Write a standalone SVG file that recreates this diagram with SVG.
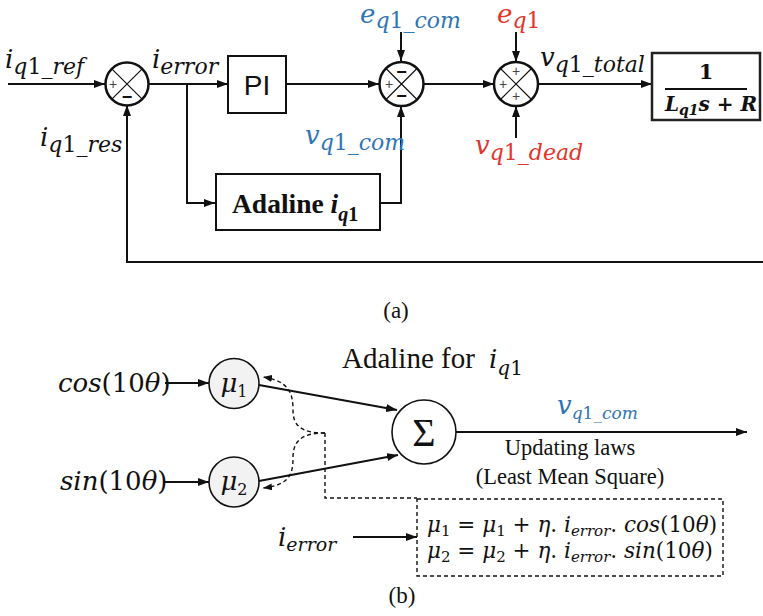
<svg xmlns="http://www.w3.org/2000/svg" width="763" height="616" viewBox="0 0 763 616">
<defs>
<marker id="ah" viewBox="0 0 11 8" refX="11" refY="4" markerWidth="11" markerHeight="8" markerUnits="userSpaceOnUse" orient="auto"><path d="M0,0 L11,4 L0,8 z" fill="#111"/></marker>
<marker id="ahs" viewBox="0 0 9 7" refX="9" refY="3.5" markerWidth="9" markerHeight="7" markerUnits="userSpaceOnUse" orient="auto"><path d="M0,0 L9,3.5 L0,7 z" fill="#111"/></marker>
<style>
.ln{fill:none;stroke:#111;stroke-width:2;marker-end:url(#ah)}
.dl{fill:none;stroke:#111;stroke-width:1.4;stroke-dasharray:4 3}
.dla{fill:none;stroke:#111;stroke-width:1.4;stroke-dasharray:4 3;marker-end:url(#ahs)}
.box{fill:#fff;stroke:#111;stroke-width:2}
.sum{fill:#fff;stroke:#111;stroke-width:2.5}
.x{stroke:#111;stroke-width:1.2}
.m{font-family:"DejaVu Serif",serif;font-style:italic;font-size:26px;fill:#111}
.s{font-size:22px}
.u{font-style:normal}
.blue{fill:#2f75b5}
.red{fill:#e3342b}
.t{font-family:"Liberation Serif","Times New Roman",serif;fill:#111}
.pl{font-family:"Liberation Sans",Arial,sans-serif;font-size:14px;fill:#444}
.mi{font-family:"Liberation Sans",Arial,sans-serif;font-size:18px;font-weight:bold;fill:#111}
.eq{font-family:"DejaVu Serif",serif;font-style:italic;font-size:21.5px;fill:#111}
.es{font-size:15px}
.mu{fill:#f2f2f2;stroke:#111;stroke-width:1.6}
</style>
</defs>

<g id="connectors">
<path class="ln" d="M8,84 H105"/>
<path class="ln" d="M148,84 H228"/>
<path class="ln" d="M187,84 V203 H215"/>
<path class="ln" d="M286,84 H379"/>
<path class="ln" d="M380,203 H401 V106"/>
<path class="ln" d="M401,32 V61"/>
<path class="ln" d="M424,84 H494"/>
<path class="ln" d="M516,32 V62"/>
<path class="ln" d="M516,138 V106"/>
<path class="ln" d="M538,84 H652"/>
<path class="ln" d="M763,262 H127 V105"/>
<path class="ln" d="M165,383 H209"/>
<path class="ln" d="M163,482 H209"/>
<path class="ln" d="M259,385 L397,410"/>
<path class="ln" d="M259,481 L398,455"/>
<path class="ln" d="M456,432 H747"/>
<path class="ln" d="M353,537 H417"/>
<path class="dla" d="M325,433 C300,433 293,425 293,410 C293,392 288,381 263,377"/>
<path class="dla" d="M325,433 C300,433 293,442 293,458 C293,476 288,485 263,488"/>
<path class="dl" d="M325,433 V498 H417"/>
</g>

<g id="sum1">
<circle class="sum" cx="127" cy="84" r="21.5"/>
<path class="x" d="M111.8,68.8 L142.2,99.2 M142.2,68.8 L111.8,99.2"/>
<text class="pl" x="113" y="89" text-anchor="middle">+</text>
<text class="mi" x="127" y="103" text-anchor="middle">−</text>
</g>

<g id="pi">
<rect class="box" x="228" y="56" width="58" height="57"/>
<text x="257" y="95" text-anchor="middle" font-family="Liberation Sans, Arial, sans-serif" font-size="28" fill="#111">PI</text>
</g>

<g id="adaline">
<rect class="box" x="216" y="174" width="164" height="56"/>
<text class="t" x="232" y="213" font-size="27.5" font-weight="bold">Adaline <tspan font-style="italic">i</tspan><tspan font-style="italic" font-size="20" dy="8">q</tspan><tspan font-size="20">1</tspan></text>
</g>

<g id="sum2">
<circle class="sum" cx="401.5" cy="84" r="22"/>
<path class="x" d="M386,68.5 L417,99.5 M417,68.5 L386,99.5"/>
<text class="pl" x="389" y="89" text-anchor="middle">+</text>
<text class="mi" x="401.5" y="78" text-anchor="middle">−</text>
<text class="mi" x="401.5" y="102" text-anchor="middle">−</text>
</g>

<g id="sum3">
<circle class="sum" cx="516" cy="84" r="22"/>
<path class="x" d="M500.5,68.5 L531.5,99.5 M531.5,68.5 L500.5,99.5"/>
<text class="pl" x="503" y="89" text-anchor="middle">+</text>
<text class="pl" x="516" y="76" text-anchor="middle">+</text>
<text class="pl" x="516" y="101" text-anchor="middle">+</text>
</g>

<g id="plant">
<rect x="652" y="53" width="108" height="67" fill="#fff" stroke="#222" stroke-width="2.5"/>
<text x="706" y="79" text-anchor="middle" font-family="DejaVu Serif, serif" font-weight="bold" font-size="21" fill="#111">1</text>
<line x1="665" y1="89" x2="747" y2="89" stroke="#111" stroke-width="2"/>
<text x="665" y="111" font-family="DejaVu Serif, serif" font-weight="bold" font-style="italic" font-size="20" fill="#111">L<tspan font-size="14" dy="4">q1</tspan><tspan dy="-4">s</tspan><tspan font-style="normal"> + </tspan>R</text>
</g>

<g id="labels-a">
<text class="m" x="5" y="68">i<tspan class="s" dy="6">q<tspan class="u">1</tspan>_ref</tspan></text>
<text class="m" x="152" y="68">i<tspan class="s" dy="6">error</tspan></text>
<text class="m" x="40" y="146">i<tspan class="s" dy="6">q<tspan class="u">1</tspan>_res</tspan></text>
<text class="m blue" x="360" y="23" font-size="24">e<tspan class="s" dy="5">q<tspan class="u">1</tspan>_com</tspan></text>
<text class="m blue" x="305" y="144">v<tspan class="s" dy="6">q<tspan class="u">1</tspan>_com</tspan></text>
<text class="m red" x="497" y="23" font-size="24">e<tspan class="s" dy="5">q<tspan class="u">1</tspan></tspan></text>
<text class="m red" x="475" y="154">v<tspan class="s" dy="6">q<tspan class="u">1</tspan>_dead</tspan></text>
<text class="m" x="540" y="66">v<tspan class="s" dy="6">q<tspan class="u">1</tspan>_total</tspan></text>
<text class="t" x="396" y="318" font-size="23" text-anchor="middle">(a)</text>
</g>

<g id="mu1">
<circle class="mu" cx="234" cy="383.5" r="25"/>
<text class="m" x="234" y="392" text-anchor="middle" font-size="22">μ<tspan font-size="16" font-style="normal" dy="5">1</tspan></text>
</g>
<g id="mu2">
<circle class="mu" cx="234" cy="482" r="25"/>
<text class="m" x="234" y="490" text-anchor="middle" font-size="22">μ<tspan font-size="16" font-style="normal" dy="5">2</tspan></text>
</g>
<g id="sigma">
<circle cx="424" cy="432" r="32" fill="#fff" stroke="#111" stroke-width="1.6"/>
<text class="t" x="424" y="446" font-size="40" text-anchor="middle">Σ</text>
</g>
<g id="update-box">
<rect x="417" y="499" width="306" height="77" fill="#fff" stroke="#111" stroke-width="1.4" stroke-dasharray="4 3"/>
<text class="eq" x="427" y="532">μ<tspan class="es u" dy="4">1</tspan><tspan class="u" dy="-4"> = </tspan>μ<tspan class="es u" dy="4">1</tspan><tspan class="u" dy="-4"> + </tspan>η<tspan class="u">. </tspan>i<tspan class="es" dy="4">error</tspan><tspan class="u" dy="-4">.</tspan> cos<tspan class="u">(10</tspan>θ<tspan class="u">)</tspan></text>
<text class="eq" x="427" y="558">μ<tspan class="es u" dy="4">2</tspan><tspan class="u" dy="-4"> = </tspan>μ<tspan class="es u" dy="4">2</tspan><tspan class="u" dy="-4"> + </tspan>η<tspan class="u">. </tspan>i<tspan class="es" dy="4">error</tspan><tspan class="u" dy="-4">.</tspan> sin<tspan class="u">(10</tspan>θ<tspan class="u">)</tspan></text>
</g>

<g id="labels-b">
<text class="t" x="342" y="368" font-size="29">Adaline for</text>
<text class="m" x="489" y="368" font-size="27">i<tspan font-size="20" dy="7">q<tspan font-style="normal">1</tspan></tspan></text>
<text class="m" x="58" y="392" font-size="24">cos<tspan class="u">(10</tspan>θ<tspan class="u">)</tspan></text>
<text class="m" x="60" y="490" font-size="24">sin<tspan class="u">(10</tspan>θ<tspan class="u">)</tspan></text>
<text class="m blue" x="557" y="414" font-size="22">v<tspan font-size="17" dy="5">q<tspan font-style="normal">1</tspan>_com</tspan></text>
<text class="t" x="570" y="455" font-size="22.5" text-anchor="middle">Updating laws</text>
<text class="t" x="570" y="484" font-size="22.5" text-anchor="middle">(Least Mean Square)</text>
<text class="m" x="278" y="546" font-size="24">i<tspan font-size="19" dy="5">error</tspan></text>
<text class="t" x="402" y="603" font-size="23" text-anchor="middle">(b)</text>
</g>
</svg>
